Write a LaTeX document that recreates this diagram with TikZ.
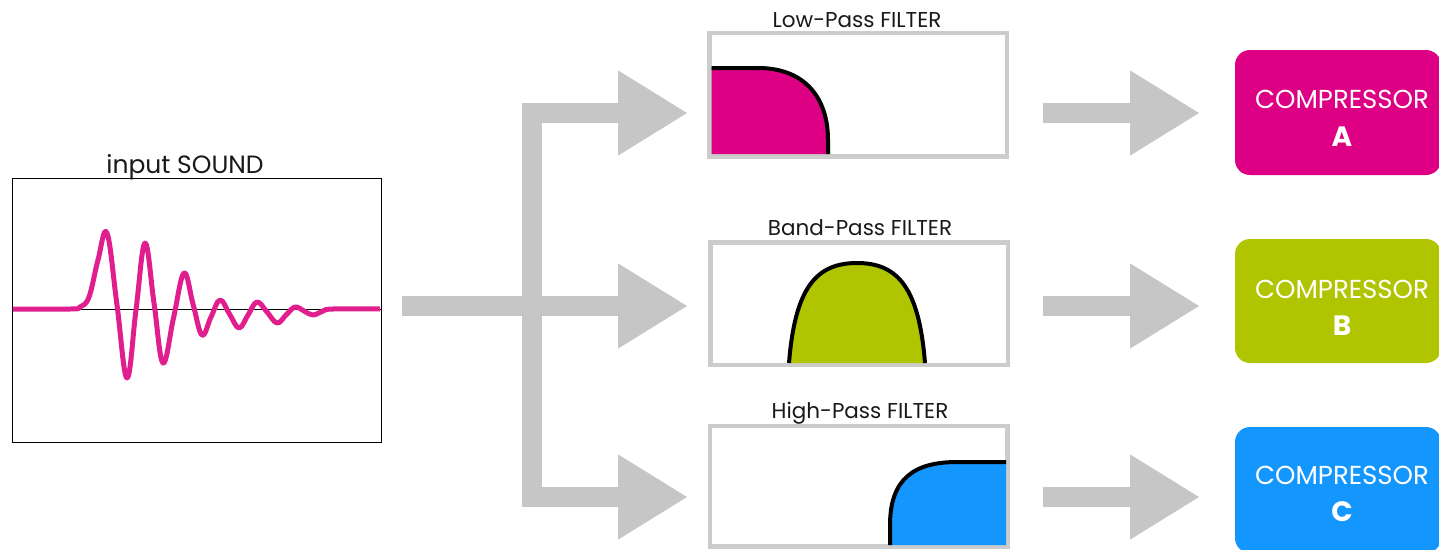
\documentclass[tikz,border=0pt]{standalone}
\usepackage{fontspec}
\setmainfont{Poppins}
\usetikzlibrary{arrows.meta}
\definecolor{arrowgray}{RGB}{198,198,198}
\definecolor{boxgray}{RGB}{204,204,204}
\definecolor{wavepink}{RGB}{224,30,142}
\definecolor{magA}{RGB}{222,0,132}
\definecolor{limeB}{RGB}{176,196,0}
\definecolor{blueC}{RGB}{20,150,255}
\definecolor{txt}{RGB}{25,25,25}
\begin{document}
\begin{tikzpicture}[x=1pt,y=-1pt,
  bigarrow/.style={draw=arrowgray,line width=20pt,line cap=butt,-{Triangle[length=70pt,width=80pt]}},
  filterbox/.style={draw=boxgray,line width=3pt,fill=white,minimum width=296pt,inner sep=0pt},
  ttl/.style={font=\fontsize{21.5}{24}\selectfont,text=txt,anchor=base,inner sep=0pt},
  compbox/.style={rounded corners=15pt,draw=none,inner sep=0pt,minimum width=206pt},
  comptxt/.style={font=\fontsize{26}{30}\selectfont,text=white,anchor=base,inner sep=0pt},
  completter/.style={font=\bfseries\fontsize{28}{32}\selectfont,text=white,anchor=base,inner sep=0pt},
  curve/.style={draw=black,line width=4pt}
]
\useasboundingbox (0,0) rectangle (1439,549);

% input sound
\node[draw=black,line width=1pt,minimum width=369pt,minimum height=264pt,inner sep=0pt] (in) at (196.5,310) {};
\node[ttl,font=\fontsize{25}{28}\selectfont] (intl) at (185,173) {input SOUND};
\draw[black,line width=0.8pt] (in.west |- 0,309) -- (in.east |- 0,309);
\draw[wavepink,line width=5pt,line join=round]
  plot[smooth,tension=0.65] coordinates {(13,309) (70,309) (80,307) (89,297) (98,260) (107,233) (117,305) (127,378) (136,310) (145,243) (154,303) (163,363) (173.5,318) (184,273) (193,304) (202,335) (211,317) (220,300) (229.5,314) (239,328) (248,315) (257,302) (267,312) (277,323) (286,315) (295,307) (304,311) (313,315) (323,311) (333,309) (380,309)};

% filters
\node[filterbox,minimum height=122pt] (lp) at (858,94.5) {};
\node[filterbox,minimum height=121pt] (bp) at (859,303.5) {};
\node[filterbox,minimum height=119pt] (hp) at (858.5,486) {};
\node[ttl] (lpt) at (857,27) {Low-Pass FILTER};
\node[ttl] (bpt) at (860,235) {Band-Pass FILTER};
\node[ttl] (hpt) at (860,418) {High-Pass FILTER};

% low pass curve
\fill[magA] (711.5,154) -- (711.5,68) -- (758,68) .. controls (805,68) and (828,98) .. (828,140) -- (828,154) -- cycle;
\draw[curve] (711.5,68) -- (758,68) .. controls (805,68) and (828,98) .. (828,140) -- (828,154);
% band pass curve
\fill[limeB] (789,363) .. controls (795,288) and (816,263) .. (857,263) .. controls (898,263) and (919,288) .. (925,363) -- cycle;
\draw[curve] (789,363) .. controls (795,288) and (816,263) .. (857,263) .. controls (898,263) and (919,288) .. (925,363);
% high pass curve
\fill[blueC] (890,545) -- (890,525) .. controls (890,478) and (915,462) .. (957,462) -- (1006,462) -- (1006,545) -- cycle;
\draw[curve] (890,545) -- (890,525) .. controls (890,478) and (915,462) .. (957,462) -- (1006,462);
% redraw borders on top
\foreach \b in {lp,bp,hp} \draw[boxgray,line width=3pt] (\b.south west) rectangle (\b.north east);

% arrows from input to filters
\coordinate (src) at (402,306);
\coordinate (split) at (532,306);
\coordinate (t1) at (688,113);
\coordinate (t2) at (688,306);
\coordinate (t3) at (688,497);
\draw[bigarrow] (split) |- (t1);
\draw[bigarrow] (split) |- (t3);
\draw[bigarrow] (src) -- (t2);

% compressors
\node[compbox,fill=magA,minimum height=125pt] (ca) at (1338,112.5) {};
\node[compbox,fill=limeB,minimum height=124pt] (cb) at (1338,301) {};
\node[compbox,fill=blueC,minimum height=126pt] (cc) at (1338,490) {};
\node[comptxt] (cat) at (1342,108) {COMPRESSOR};
\node[completter] (cal) at (1342,146) {A};
\node[comptxt] (cbt) at (1342,298) {COMPRESSOR};
\node[completter] (cbl) at (1342,335) {B};
\node[comptxt] (cct) at (1342,484) {COMPRESSOR};
\node[completter] (ccl) at (1342,521) {C};

% arrows from filters to compressors
\coordinate (f1) at (1043,113);
\coordinate (f2) at (1043,306);
\coordinate (f3) at (1043,497);
\coordinate (g1) at (1200,113);
\coordinate (g2) at (1200,306);
\coordinate (g3) at (1200,497);
\draw[bigarrow] (f1) -- (g1);
\draw[bigarrow] (f2) -- (g2);
\draw[bigarrow] (f3) -- (g3);
\end{tikzpicture}
\end{document}
